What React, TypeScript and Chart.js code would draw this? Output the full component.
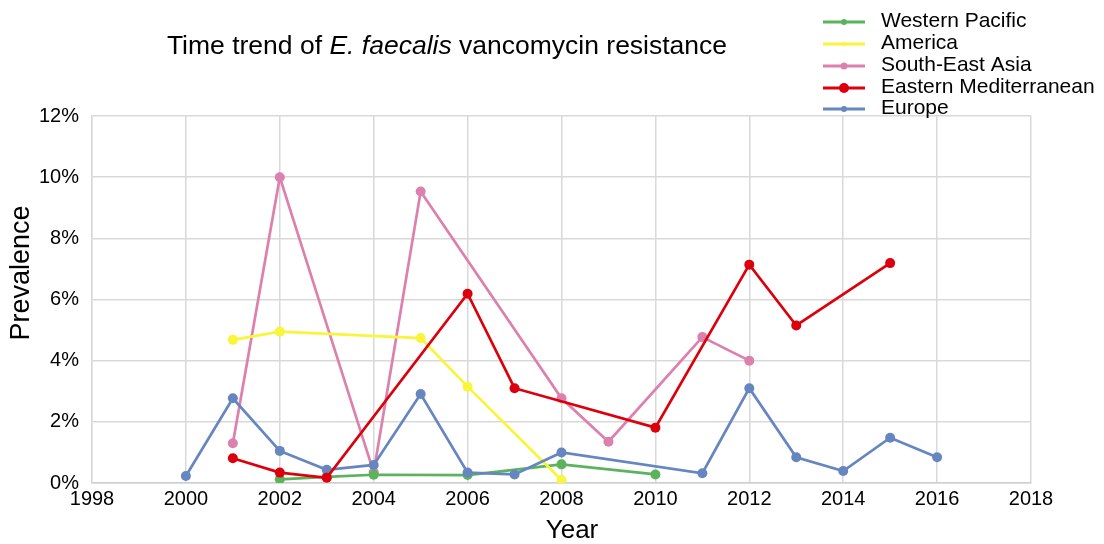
import React, { useEffect, useRef } from "react";
import { Chart, registerables } from "chart.js";

Chart.register(...registerables);

// ---- data ----
const seriesNames = ["Western Pacific", "America", "South-East Asia", "Eastern Mediterranean", "Europe"];

const westernPacificYears = [2002, 2003, 2004, 2006, 2008, 2010];
const westernPacificValues = [0.12, 0.2, 0.27, 0.26, 0.61, 0.28];

const americaYears = [2001, 2002, 2005, 2006, 2008];
const americaValues = [4.68, 4.95, 4.74, 3.15, 0.1];

const seAsiaYears = [2001, 2002, 2004, 2005, 2008, 2009, 2011, 2012];
const seAsiaValues = [1.3, 10.0, 0.35, 9.53, 2.77, 1.35, 4.77, 4.0];

const eastMedYears = [2001, 2002, 2003, 2006, 2007, 2010, 2012, 2013, 2015];
const eastMedValues = [0.81, 0.34, 0.17, 6.19, 3.1, 1.81, 7.14, 5.15, 7.19];

const europeYears = [2000, 2001, 2002, 2003, 2004, 2005, 2006, 2007, 2008, 2011, 2012, 2013, 2014, 2015, 2016];
const europeValues = [0.23, 2.77, 1.05, 0.43, 0.59, 2.91, 0.34, 0.28, 1.0, 0.32, 3.1, 0.84, 0.39, 1.48, 0.84];

const xMin = 1998;
const xMax = 2018;
const xStep = 2;
const yMin = 0;
const yMax = 12;
const yStep = 2;

const colors = ["#5bb35b", "#f8f53a", "#dc80ad", "#dc000c", "#6686c0"];
const legendMarker = [3, 2, 3.5, 5, 3];

const toPoints = (xs: number[], ys: number[]) => xs.map((x, i) => ({ x, y: ys[i] }));

const FONT = "'Liberation Sans', Arial, sans-serif";

const overlayPlugin = {
  id: "overlay",
  afterDraw(chart: any) {
    const ctx = chart.ctx as CanvasRenderingContext2D;
    ctx.save();
    // Title with italic species name
    const parts: [string, string][] = [
      ["Time trend of ", "normal"],
      ["E. faecalis", "italic"],
      [" vancomycin resistance", "normal"],
    ];
    const size = 26.5;
    let total = 0;
    for (const [t, st] of parts) {
      ctx.font = `${st} ${size}px ${FONT}`;
      total += ctx.measureText(t).width;
    }
    let x = 447 - total / 2;
    ctx.fillStyle = "#000";
    ctx.textBaseline = "middle";
    ctx.textAlign = "left";
    for (const [t, st] of parts) {
      ctx.font = `${st} ${size}px ${FONT}`;
      ctx.fillText(t, x, 47);
      x += ctx.measureText(t).width;
    }

    // Axis titles
    ctx.font = `26px ${FONT}`;
    ctx.textAlign = "center";
    ctx.fillText("Year", 572, 531);
    ctx.save();
    ctx.font = `27px ${FONT}`;
    ctx.translate(22, 273);
    ctx.rotate(-Math.PI / 2);
    ctx.fillText("Prevalence", 0, 0);
    ctx.restore();

    // Legend
    const rows = [22, 44, 66, 88, 109];
    ctx.fillStyle = "#fff";
    ctx.fillRect(818, 8, 286, 106);
    ctx.font = `21px ${FONT}`;
    ctx.textAlign = "left";
    chart.data.datasets.forEach((ds: any, i: number) => {
      const y = rows[i];
      ctx.strokeStyle = ds.borderColor;
      ctx.lineWidth = 3;
      ctx.beginPath();
      ctx.moveTo(823, y);
      ctx.lineTo(865, y);
      ctx.stroke();
      ctx.fillStyle = ds.borderColor;
      ctx.beginPath();
      ctx.arc(844, y, legendMarker[i], 0, Math.PI * 2);
      ctx.fill();
      ctx.fillStyle = "#000";
      ctx.fillText(ds.label, 881, y - 1);
    });
    ctx.restore();
  },
};

export default function App() {
  const ref = useRef<HTMLCanvasElement>(null);
  useEffect(() => {
    if (!ref.current) return;
    const yearSets = [westernPacificYears, americaYears, seAsiaYears, eastMedYears, europeYears];
    const valueSets = [westernPacificValues, americaValues, seAsiaValues, eastMedValues, europeValues];
    const chart = new Chart(ref.current, {
      type: "line",
      data: {
        datasets: seriesNames.map((name, i) => ({
          label: name,
          data: toPoints(yearSets[i], valueSets[i]),
          borderColor: colors[i],
          backgroundColor: colors[i],
          pointBackgroundColor: colors[i],
          pointBorderColor: colors[i],
          borderWidth: 2.7,
          pointRadius: 5,
          pointBorderWidth: 0,
          tension: 0,
          fill: false,
          order: [3, 2, 4, 0, 1][i],
        })),
      },
      options: {
        responsive: false,
        animation: false,
        layout: { padding: { top: 116, right: 73, left: 0, bottom: 0 } },
        plugins: {
          legend: { display: false },
          title: { display: false },
          tooltip: { enabled: false },
        },
        scales: {
          x: {
            type: "linear",
            min: xMin,
            max: xMax,
            ticks: {
              stepSize: xStep,
              color: "#000",
              font: { family: FONT, size: 20 },
              padding: 4,
              callback: (v: any) => String(v),
              maxRotation: 0,
            },
            grid: { color: "#d9d9d9", lineWidth: 1.5, drawTicks: false },
            border: { color: "#cfcfcf", width: 1.5 },
            afterFit: (s: any) => {
              s.height = 61;
            },
          },
          y: {
            min: yMin,
            max: yMax,
            ticks: {
              stepSize: yStep,
              color: "#000",
              font: { family: FONT, size: 20 },
              padding: 13,
              callback: (v: any) => `${v}%`,
            },
            grid: { color: "#d9d9d9", lineWidth: 1.5, drawTicks: false },
            border: { color: "#d9d9d9", width: 1.5 },
            afterFit: (s: any) => {
              s.width = 92;
            },
          },
        },
      } as any,
      plugins: [overlayPlugin],
    });
    return () => chart.destroy();
  }, []);
  return (
    <div style={{ position: "fixed", left: 0, top: 0, width: 1104, height: 544, background: "#fff" }}>
      <canvas ref={ref} width={1104} height={544} style={{ display: "block" }} />
    </div>
  );
}
